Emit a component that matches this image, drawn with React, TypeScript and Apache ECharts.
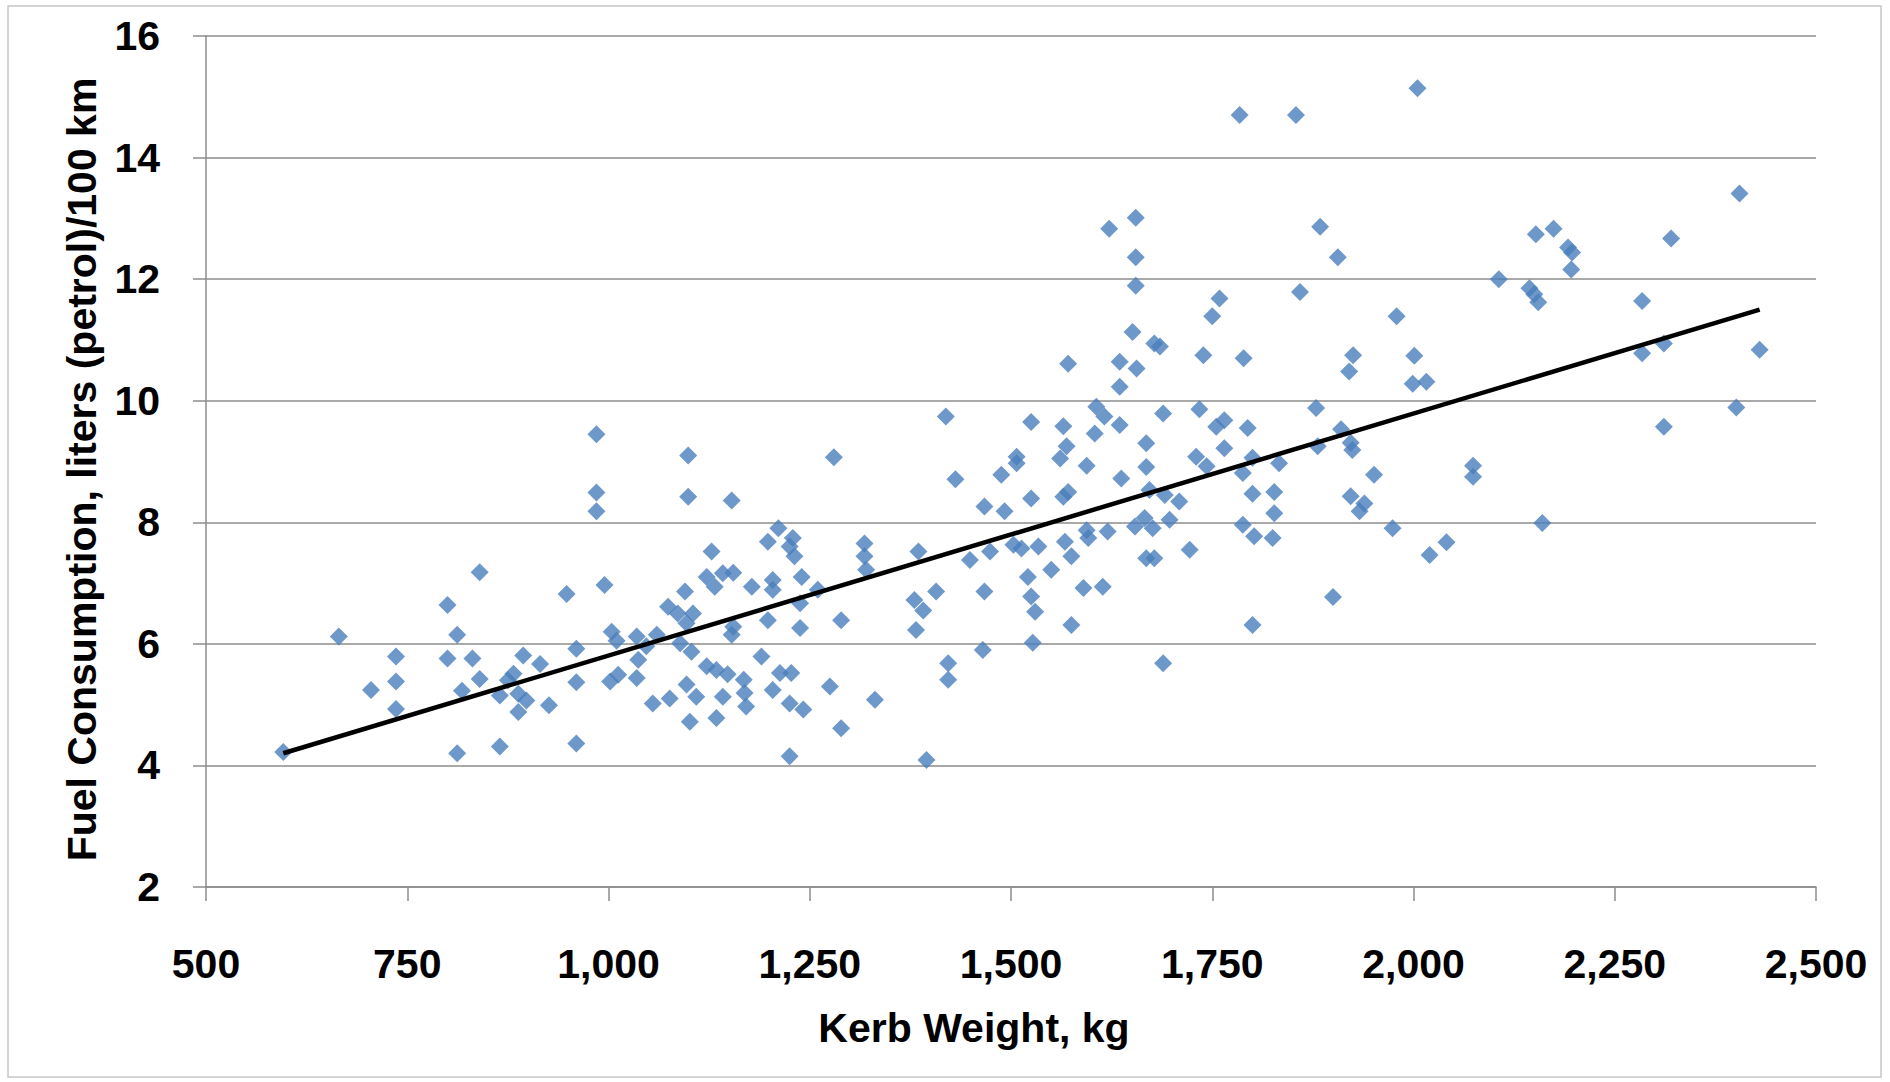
import { useEffect, useRef } from "react";
import * as echarts from "echarts";

// Kerb weight (kg) and fuel consumption (l/100 km), pairwise.
const kerbWeight = [
  596, 665, 705, 736, 736, 736, 800, 800, 812, 812,
  818, 831, 840, 840, 865, 894, 915, 882, 888, 898,
  888, 865, 875, 926, 948, 960, 960, 960,
  985, 985, 985, 1099, 1099, 1153, 995, 1004, 1010, 1002,
  1012, 1035, 1047, 1060, 1037, 1035, 1055, 1076, 1074, 1086,
  1095, 1105, 1097, 1089, 1103, 1097, 1109, 1101, 1122, 1134,
  1148, 1168, 1142, 1134, 1128, 1122, 1132, 1142, 1155, 1155,
  1153,
  1280, 1211, 1198, 1229, 1231, 1225, 1318, 1318, 1320, 1385,
  1178, 1204, 1204, 1240, 1260, 1238, 1198, 1238, 1289, 1380,
  1391, 1382, 1190, 1213, 1227, 1204, 1169, 1171, 1225, 1242,
  1275, 1331, 1289, 1225, 1395,
  1571, 1419, 1525, 1565, 1569, 1561, 1507, 1507, 1488, 1594,
  1606, 1604, 1431, 1467, 1492, 1525, 1565, 1571, 1594, 1596,
  1449, 1474, 1503, 1513, 1534, 1567, 1575, 1521, 1550, 1407,
  1467, 1590, 1525, 1530, 1575, 1527, 1465, 1422, 1422,
  1655, 1622, 1655, 1655, 1759, 1750, 1651, 1678, 1685, 1739,
  1635, 1656, 1635, 1616, 1635, 1689, 1734, 1755, 1765, 1668,
  1765, 1730, 1743, 1637, 1668, 1672, 1691, 1709, 1620, 1654,
  1666, 1676, 1697, 1722, 1668, 1678, 1614, 1689,
  1784, 1854, 1884, 1906, 1859, 1789, 1925, 1920, 1794, 1879,
  1910, 1922, 1924, 1788, 1800, 1833, 1881, 1951, 1800, 1827,
  1827, 1788, 1802, 1825, 1922, 1939, 1933, 1900, 1800,
  2005, 2106, 1979, 2001, 1999, 2016, 2074, 2074, 1974, 2020,
  2041,
  2405, 2152, 2174, 2320, 2192, 2197, 2196, 2144, 2150, 2155,
  2284, 2430, 2284, 2311, 2401, 2311, 2160,
];

const fuelPer100km = [
  4.22, 6.12, 5.24, 5.79, 5.38, 4.93, 6.64, 5.76, 6.15, 4.2,
  5.23, 5.76, 7.18, 5.42, 4.31, 5.81, 5.67, 5.51, 5.18, 5.07,
  4.88, 5.15, 5.4, 4.99, 6.82, 5.92, 5.37, 4.36,
  9.45, 8.49, 8.18, 9.1, 8.42, 8.36, 6.97, 6.2, 6.05, 5.38,
  5.49, 6.12, 5.96, 6.15, 5.74, 5.44, 5.02, 5.1, 6.61, 6.5,
  6.86, 6.5, 6.34, 6.01, 5.87, 5.33, 5.13, 4.72, 5.63, 5.57,
  5.5, 5.41, 5.13, 4.78, 7.52, 7.1, 6.94, 7.16, 7.17, 6.28,
  6.15,
  9.07, 7.9, 7.68, 7.74, 7.44, 7.6, 7.65, 7.44, 7.22, 7.52,
  6.94, 7.05, 6.89, 7.1, 6.89, 6.67, 6.39, 6.26, 6.39, 6.72,
  6.55, 6.23, 5.79, 5.52, 5.52, 5.24, 5.19, 4.97, 5.02, 4.92,
  5.3, 5.08, 4.61, 4.15, 4.09,
  10.61, 9.74, 9.65, 9.58, 9.25, 9.05, 9.08, 8.97, 8.78, 8.93,
  9.9, 9.46, 8.71, 8.26, 8.18, 8.39, 8.42, 8.5, 7.87, 7.74,
  7.38, 7.52, 7.63, 7.57, 7.6, 7.68, 7.44, 7.1, 7.22, 6.86,
  6.86, 6.92, 6.78, 6.53, 6.31, 6.02, 5.9, 5.68, 5.41,
  13.01, 12.83, 12.36, 11.89, 11.68, 11.39, 11.13, 10.94, 10.89, 10.75,
  10.64, 10.53, 10.23, 9.74, 9.6, 9.79, 9.86, 9.57, 9.68, 9.3,
  9.22, 9.08, 8.92, 8.72, 8.91, 8.53, 8.45, 8.34, 7.85, 7.93,
  8.07, 7.9, 8.04, 7.55, 7.41, 7.41, 6.94, 5.68,
  14.7, 14.7, 12.86, 12.36, 11.79, 10.7, 10.75, 10.48, 9.55, 9.88,
  9.53, 9.31, 9.19, 8.81, 9.06, 8.97, 9.25, 8.78, 8.47, 8.5,
  8.15, 7.96, 7.77, 7.74, 8.43, 8.31, 8.18, 6.77, 6.31,
  15.14, 12.0, 11.39, 10.74, 10.28, 10.31, 8.93, 8.75, 7.9, 7.46,
  7.67,
  13.41, 12.74, 12.83, 12.67, 12.52, 12.44, 12.16, 11.85, 11.75, 11.62,
  11.64, 10.84, 10.78, 10.94, 9.89, 9.57, 7.99,
];

// Linear trend line end points.
const trendWeight = [596, 2430];
const trendFuel = [4.2, 11.5];

// Axis ranges and steps.
const xRange = [500, 2500];
const xStep = 250;
const yRange = [2, 16];
const yStep = 2;

const xTitle = "Kerb Weight, kg";
const yTitle = "Fuel Consumption, liters (petrol)/100 km";

const FONT = "'Liberation Sans', Arial, sans-serif";

export default function App() {
  const ref = useRef<HTMLDivElement>(null);

  useEffect(() => {
    if (!ref.current) return;
    const chart = echarts.init(ref.current, null, { renderer: "svg" });
    const points = kerbWeight.map((w, i) => [w, fuelPer100km[i]]);
    const trend = trendWeight.map((w, i) => [w, trendFuel[i]]);
    const axisGray = "#8c8c8c";
    chart.setOption({
      animation: false,
      backgroundColor: "#ffffff",
      graphic: [
        {
          type: "rect",
          silent: true,
          z: -10,
          shape: { x: 8, y: 6, width: 1873, height: 1071 },
          style: { fill: "none", stroke: "#c6c6c6", lineWidth: 1.5 },
        },
      ],
      grid: { left: 206, right: 74, top: 36, bottom: 195, containLabel: false },
      xAxis: {
        type: "value",
        min: xRange[0],
        max: xRange[1],
        interval: xStep,
        name: xTitle,
        nameLocation: "middle",
        nameGap: 120,
        nameTextStyle: {
          fontFamily: FONT,
          fontWeight: "bold",
          fontSize: 41,
          color: "#000",
          padding: [0, 74, 0, 0],
        },
        axisLine: { show: true, lineStyle: { color: axisGray, width: 1.5 } },
        axisTick: { show: true, inside: false, length: 14, lineStyle: { color: axisGray, width: 1.5 } },
        splitLine: { show: false },
        axisLabel: {
          margin: 56,
          fontFamily: FONT,
          fontWeight: "bold",
          fontSize: 41,
          color: "#000",
          formatter: (v: number) => v.toLocaleString("en-US"),
        },
      },
      yAxis: {
        type: "value",
        min: yRange[0],
        max: yRange[1],
        interval: yStep,
        name: yTitle,
        nameLocation: "middle",
        nameGap: 104,
        nameTextStyle: {
          fontFamily: FONT,
          fontWeight: "bold",
          fontSize: 41,
          color: "#000",
          padding: [0, 16, 0, 0],
        },
        axisLine: { show: true, lineStyle: { color: axisGray, width: 1.5 } },
        axisTick: { show: true, inside: false, length: 13, lineStyle: { color: axisGray, width: 1.5 } },
        splitLine: { show: true, lineStyle: { color: axisGray, width: 1.5 } },
        axisLabel: {
          margin: 46,
          fontFamily: FONT,
          fontWeight: "bold",
          fontSize: 41,
          color: "#000",
        },
      },
      series: [
        {
          type: "scatter",
          data: points,
          symbol: "diamond",
          symbolSize: 18,
          itemStyle: { color: "#4a7ebb" },
          z: 2,
        },
        {
          type: "line",
          data: trend,
          showSymbol: false,
          symbol: "none",
          lineStyle: { color: "#000000", width: 4.5 },
          z: 3,
        },
      ],
    });
    return () => chart.dispose();
  }, []);

  return (
    <div
      ref={ref}
      style={{ position: "fixed", left: 0, top: 0, width: 1890, height: 1082, background: "#fff" }}
    />
  );
}
